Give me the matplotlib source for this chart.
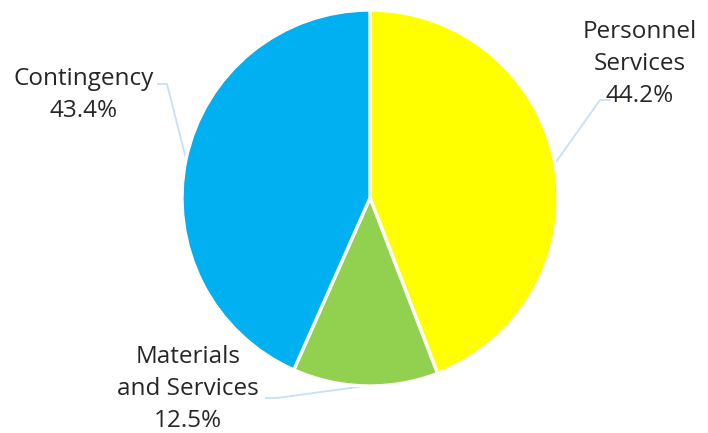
import numpy as np
import matplotlib.pyplot as plt

# slice data, clockwise from 12 o'clock
labels = ['Personnel\nServices', 'Materials\nand Services', 'Contingency']
shares = [44.2, 12.5, 43.4]
colors = ['#FFFF00', '#92D050', '#00B0F0']

W, H = 708, 433
cx, cy, r = 370, H - 198, 188

plt.rcParams['font.family'] = ['Open Sans', 'DejaVu Sans']

fig = plt.figure(figsize=(W / 100, H / 100), dpi=100)
ax = fig.add_axes([0, 0, 1, 1])

wedges, _ = ax.pie(shares, colors=colors, startangle=90, counterclock=False,
                   center=(cx, cy), radius=r, normalize=True,
                   wedgeprops=dict(edgecolor='white', linewidth=2.4))
# pie() resets the limits, so set them afterwards
ax.set_xlim(0, W)
ax.set_ylim(0, H)
ax.set_aspect('equal')
ax.axis('off')

# label placement: (text x, text y, elbow x, elbow y, line end x)
label_pos = [
    (640, H - 64, 600, H - 100, 611),
    (188, H - 389, 277, H - 398, 265),
    (84, H - 95, 167, H - 84, 157),
]
line_col = '#C9DFF4'
for w, lab, val, (tx, ty, ex, ey, lx) in zip(wedges, labels, shares, label_pos):
    mid = np.deg2rad((w.theta1 + w.theta2) / 2)
    px, py = cx + r * np.cos(mid), cy + r * np.sin(mid)
    ax.plot([px, ex, lx], [py, ey, ey], color=line_col, lw=1.3,
            solid_capstyle='butt', zorder=0)
    ax.text(tx, ty, f'{lab}\n{val}%', ha='center', va='center',
            fontsize=17.5, color='#262626', linespacing=1.46)

fig.savefig('out.png', dpi=100)
